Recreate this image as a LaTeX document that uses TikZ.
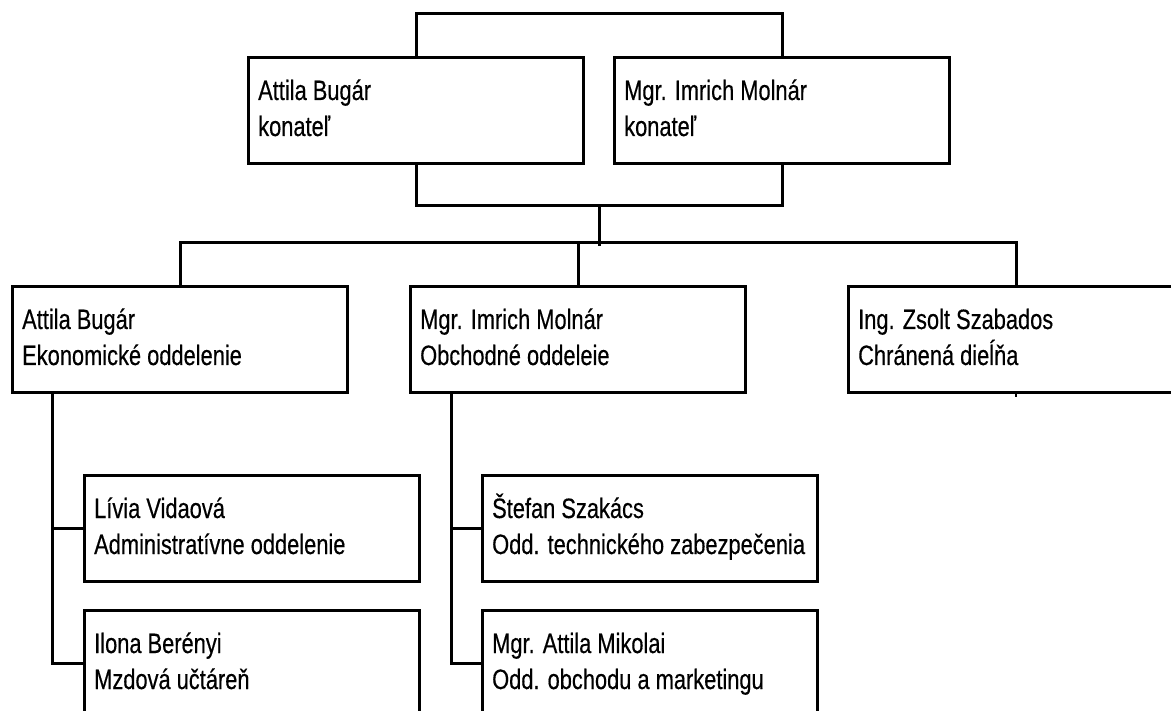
\documentclass[tikz,border=0pt]{standalone}
\usepackage{fontspec}
\setmainfont{Liberation Sans}[FakeStretch=0.78,FakeBold=0.4]
\usetikzlibrary{calc}
\tikzset{
  orgbox/.style={draw=black, line width=3pt, rectangle, inner sep=0pt,
    minimum width=335pt, minimum height=106pt, anchor=north west},
  txt/.style={inner sep=0pt, anchor=base west, font=\fontsize{28}{36}\selectfont, text=black},
  conn/.style={draw=black, line width=3pt}
}
\newcommand\orgunit[5]{%
  \node[orgbox] (#1) at (#2,#3) {};
  \node[txt] (#1t1) at ($(#1.north west)+(11,44)$) {#4};
  \node[txt] (#1t2) at ($(#1.north west)+(11,80)$) {#5};
}
\begin{document}
\begin{tikzpicture}[x=1pt,y=-1pt]
\useasboundingbox (0,0) rectangle (1171,711);
\fill[white] (0,0) rectangle (1171,711);
\clip (0,0) rectangle (1171,711);
% top level
\orgunit{ka}{247}{56}{Attila Bugár}{konateľ}
\orgunit{kb}{613}{56}{Mgr. Imrich Molnár}{konateľ}
% second level
\orgunit{oa}{11}{285}{Attila Bugár}{Ekonomické oddelenie}
\orgunit{ob}{409}{285}{Mgr. Imrich Molnár}{Obchodné oddeleie}
\orgunit{oc}{847}{285}{Ing. Zsolt Szabados}{Chránená dieĺňa}
% third level
\orgunit{la}{83}{474}{Lívia Vidaová}{Administratívne oddelenie}
\orgunit{lb}{83}{609}{Ilona Berényi}{Mzdová učtáreň}
\orgunit{ra}{481}{474}{Štefan Szakács}{Odd. technického zabezpečenia}
\orgunit{rb}{481}{609}{Mgr. Attila Mikolai}{Odd. obchodu a marketingu}
% connectors: top bracket
\draw[conn] (ka.north) -- ++(0,-42) -| (kb.north);
% bottom bracket
\draw[conn] (ka.south) -- ++(0,41) -| (kb.south);
\coordinate (mid) at ($(ka.south)!0.5!(kb.south)+(0,41)$);
\coordinate (bus) at ($(mid)+(0,40)$);
\draw[conn] (mid) -- (bus);
% second level bus
\draw[conn] (oa.north) -- ++(0,-42) -| (oc.north);
\draw[conn] (ob.north) -- ++(0,-42);
\draw[black, line width=2pt] (oc.south) -- ++(0,3);
% subtrees
\coordinate (av) at ($(oa.south west)+(41,0)$);
\draw[conn] (av) |- (lb.west);
\draw[conn] (av |- la.west) -- (la.west);
\coordinate (bv) at ($(ob.south west)+(42,0)$);
\draw[conn] (bv) |- (rb.west);
\draw[conn] (bv |- ra.west) -- (ra.west);
\end{tikzpicture}
\end{document}
